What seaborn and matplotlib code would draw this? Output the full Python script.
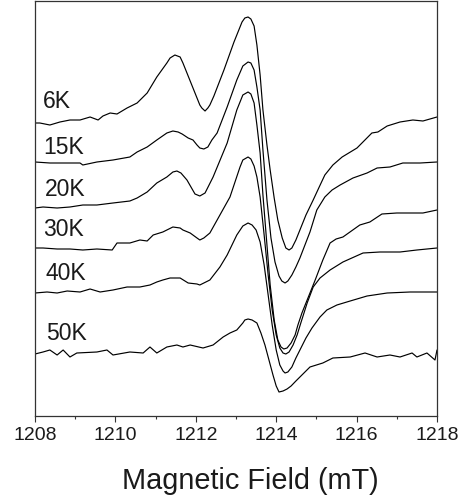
import numpy as np
import pandas as pd
import matplotlib
matplotlib.use("Agg")
import matplotlib.pyplot as plt
from matplotlib.ticker import MultipleLocator
import seaborn as sns

# ---- data (field in mT, intensity in arbitrary offset units) ----
field_6K = [1208.00, 1208.12, 1208.37, 1208.62, 1208.87, 1209.12, 1209.37, 1209.57, 1209.69, 1209.87,
            1210.04, 1210.29, 1210.54, 1210.79, 1211.03, 1211.28, 1211.36, 1211.48, 1211.61, 1211.68,
            1211.93, 1212.10, 1212.15, 1212.23, 1212.30, 1212.35, 1212.45, 1212.70, 1212.95, 1213.15,
            1213.22, 1213.30, 1213.37, 1213.45, 1213.52, 1213.60, 1213.67, 1213.77, 1213.85, 1213.95,
            1214.04, 1214.15, 1214.24, 1214.32, 1214.39, 1214.49, 1214.59, 1214.74, 1214.92, 1215.07,
            1215.21, 1215.31, 1215.41, 1215.64, 1216.01, 1216.38, 1216.53, 1216.76, 1217.08, 1217.40,
            1217.65, 1218.00]
int_6K = [293, 293, 291, 294, 296, 296, 299, 296, 300, 303,
          302, 308, 313, 323, 339, 353, 358, 361, 359, 353,
          328, 311, 308, 305, 308, 311, 320, 346, 374, 394,
          398, 399, 397, 390, 371, 341, 306, 271, 246, 218,
          196, 178, 168, 166, 168, 176, 186, 201, 216, 229,
          241, 246, 251, 259, 268, 283, 284, 290, 294, 296,
          295, 299]

field_15K = [1208.00, 1208.37, 1208.70, 1209.12, 1209.19, 1209.54, 1209.94, 1210.36, 1210.54, 1210.79,
             1211.03, 1211.28, 1211.43, 1211.56, 1211.66, 1211.81, 1211.93, 1212.03, 1212.10, 1212.20,
             1212.30, 1212.40, 1212.53, 1212.78, 1213.02, 1213.17, 1213.30, 1213.37, 1213.45, 1213.52,
             1213.60, 1213.67, 1213.77, 1213.87, 1213.97, 1214.07, 1214.14, 1214.22, 1214.29, 1214.39,
             1214.49, 1214.59, 1214.84, 1215.01, 1215.21, 1215.39, 1215.59, 1215.91, 1216.26, 1216.51,
             1216.83, 1217.15, 1217.58, 1218.00]
int_15K = [254, 253, 253, 253, 251, 254, 256, 259, 264, 269,
           276, 283, 285, 284, 282, 278, 276, 271, 268, 267,
           269, 276, 283, 309, 336, 350, 354, 353, 346, 329,
           306, 266, 216, 178, 154, 140, 135, 133, 135, 141,
           149, 158, 184, 206, 219, 226, 231, 238, 243, 248,
           249, 253, 253, 254]

field_20K = [1208.00, 1208.20, 1208.55, 1208.87, 1209.19, 1209.54, 1209.94, 1210.36, 1210.54, 1210.79,
             1211.03, 1211.28, 1211.43, 1211.53, 1211.63, 1211.78, 1211.98, 1212.10, 1212.23, 1212.43,
             1212.78, 1213.02, 1213.17, 1213.30, 1213.37, 1213.45, 1213.52, 1213.60, 1213.67, 1213.75,
             1213.85, 1213.95, 1214.04, 1214.12, 1214.19, 1214.27, 1214.37, 1214.47, 1214.54, 1214.64,
             1214.97, 1215.16, 1215.34, 1215.49, 1215.66, 1216.08, 1216.33, 1216.63, 1217.00, 1217.40,
             1217.65, 1218.00]
int_20K = [208, 209, 208, 209, 211, 211, 213, 215, 218, 224,
           233, 239, 244, 245, 243, 236, 222, 220, 223, 239,
           273, 306, 321, 324, 322, 313, 291, 263, 221, 181,
           131, 96, 76, 69, 67, 68, 73, 81, 91, 103,
           136, 156, 173, 177, 179, 191, 194, 202, 203, 203,
           203, 206]

field_30K = [1208.00, 1208.20, 1208.55, 1208.87, 1209.19, 1209.54, 1209.92, 1210.04, 1210.36, 1210.61,
             1210.79, 1210.94, 1211.18, 1211.43, 1211.61, 1211.68, 1211.86, 1212.03, 1212.10, 1212.20,
             1212.35, 1212.60, 1212.85, 1213.10, 1213.17, 1213.30, 1213.37, 1213.45, 1213.52, 1213.60,
             1213.70, 1213.80, 1213.90, 1214.00, 1214.09, 1214.17, 1214.24, 1214.32, 1214.42, 1214.52,
             1214.62, 1214.77, 1214.92, 1215.09, 1215.34, 1215.66, 1216.16, 1216.58, 1217.08, 1217.50,
             1218.00]
int_30K = [168, 168, 167, 167, 166, 167, 166, 173, 173, 176,
           175, 181, 184, 189, 188, 186, 183, 178, 176, 178,
           183, 201, 219, 249, 256, 259, 257, 250, 239, 219,
           181, 141, 106, 81, 68, 63, 62, 64, 71, 81,
           94, 113, 129, 138, 146, 154, 163, 164, 164, 166,
           168]

field_40K = [1208.00, 1208.30, 1208.55, 1208.80, 1209.12, 1209.37, 1209.62, 1209.94, 1210.29, 1210.61,
             1210.86, 1211.03, 1211.18, 1211.36, 1211.61, 1211.81, 1212.03, 1212.10, 1212.20, 1212.35,
             1212.60, 1212.78, 1213.02, 1213.17, 1213.30, 1213.40, 1213.50, 1213.60, 1213.70, 1213.80,
             1213.90, 1214.00, 1214.09, 1214.17, 1214.22, 1214.29, 1214.39, 1214.49, 1214.59, 1214.74,
             1214.89, 1215.09, 1215.26, 1215.51, 1215.84, 1216.26, 1216.76, 1217.33, 1218.00]
int_40K = [123, 124, 123, 125, 124, 127, 124, 126, 129, 129,
           131, 134, 136, 138, 138, 133, 132, 131, 133, 136,
           149, 161, 181, 190, 193, 191, 186, 174, 151, 121,
           91, 66, 51, 45, 43, 44, 49, 58, 66, 78,
           88, 99, 106, 111, 115, 120, 123, 124, 124]

field_50K = [1208.00, 1208.20, 1208.37, 1208.55, 1208.70, 1208.87, 1209.04, 1209.54, 1209.79, 1209.94,
             1210.36, 1210.69, 1210.86, 1211.03, 1211.28, 1211.53, 1211.68, 1211.86, 1212.18, 1212.43,
             1212.68, 1212.85, 1213.02, 1213.17, 1213.22, 1213.30, 1213.40, 1213.52, 1213.62, 1213.72,
             1213.82, 1213.92, 1214.00, 1214.07, 1214.17, 1214.27, 1214.37, 1214.49, 1214.59, 1214.84,
             1215.16, 1215.41, 1215.84, 1216.21, 1216.51, 1216.83, 1217.08, 1217.38, 1217.50, 1217.75,
             1217.95, 1218.00]
int_50K = [62, 64, 66, 61, 66, 59, 63, 64, 66, 61,
           64, 63, 69, 63, 69, 71, 69, 71, 68, 71,
           79, 83, 86, 93, 96, 97, 96, 93, 83, 71,
           56, 41, 30, 24, 25, 27, 30, 35, 39, 49,
           53, 58, 59, 63, 59, 61, 59, 63, 59, 63,
           56, 66]

temps = ["6K", "15K", "20K", "30K", "40K", "50K"]
fields = [field_6K, field_15K, field_20K, field_30K, field_40K, field_50K]
intensities = [int_6K, int_15K, int_20K, int_30K, int_40K, int_50K]
label_x = [1208.20, 1208.20, 1208.25, 1208.20, 1208.27, 1208.27]
label_y = [315, 269, 226, 186, 142, 82]

xticks = [1208, 1210, 1212, 1214, 1216, 1218]
xlabel = "Magnetic Field (mT)"

# ---- plotting ----
sns.set_style("white")
plt.rcParams["font.family"] = ["Liberation Sans", "DejaVu Sans"]

fig = plt.figure(figsize=(4.68, 5.0), dpi=100)
ax = fig.add_axes([35 / 468, 84 / 500, 402 / 468, 415 / 500])

for t, f, v in zip(temps, fields, intensities):
    df = pd.DataFrame({"field": f, "intensity": v})
    sns.lineplot(data=df, x="field", y="intensity", color="black", linewidth=0.85,
                 sort=False, estimator=None, ax=ax)

for t, lx, ly in zip(temps, label_x, label_y):
    ax.text(lx, ly, t, fontsize=16.5, color="#1a1a1a", ha="left", va="center")

ax.set_xlim(1208, 1218)
ax.set_ylim(0, 415)
ax.set_xticks(xticks)
ax.xaxis.set_minor_locator(MultipleLocator(1))
ax.set_yticks([])
ax.set_ylabel("")
ax.set_xlabel(xlabel, fontsize=20.8, color="#1a1a1a")
ax.xaxis.set_label_coords((250 - 35) / 402, -0.122)
ax.tick_params(axis="x", which="major", direction="out", length=4, width=0.8,
               labelsize=14, pad=4, colors="#333333", labelcolor="#1a1a1a")
ax.tick_params(axis="x", which="minor", direction="out", length=2.5, width=0.8,
               colors="#333333")
ax.tick_params(axis="x", bottom=True, which="both")
for s in ax.spines.values():
    s.set_visible(True)
    s.set_color("#333333")
    s.set_linewidth(0.9)

fig.savefig("out.png", dpi=100)
